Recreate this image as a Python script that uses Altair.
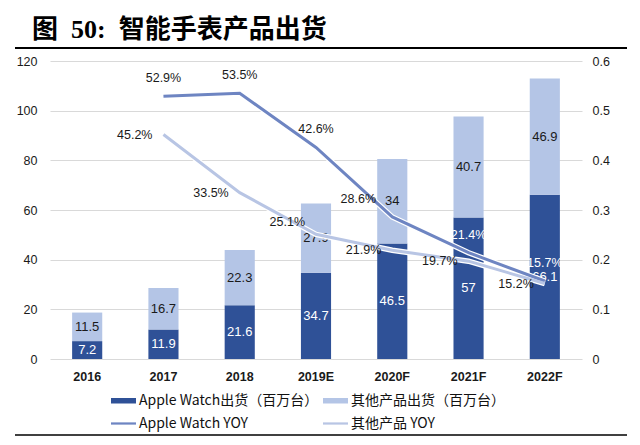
import altair as alt
import pandas as pd

# ---- data ----
years = ["2016", "2017", "2018", "2019E", "2020F", "2021F", "2022F"]
apple_ship = [7.2, 11.9, 21.6, 34.7, 46.5, 57, 66.1]
other_ship = [11.5, 16.7, 22.3, 27.9, 34, 40.7, 46.9]
yoy_years = ["2017", "2018", "2019E", "2020F", "2021F", "2022F"]
apple_yoy = [0.529, 0.535, 0.426, 0.286, 0.214, 0.157]
other_yoy = [0.452, 0.335, 0.251, 0.219, 0.197, 0.152]

S_AW = "Apple Watch出货（百万台）"
S_OT = "其他产品出货（百万台）"
S_AWY = "Apple Watch YOY"
S_OTY = "其他产品 YOY"
series_names = [S_AW, S_OT, S_AWY, S_OTY]
series_colors = ["#2F5197", "#B4C5E6", "#6E85C2", "#B8C5E4"]
title_text = "图\u200250:\u2002智能手表产品出货"

bars_df = pd.DataFrame(
    {"year": years * 2,
     "series": [S_AW] * len(years) + [S_OT] * len(years),
     "value": apple_ship + other_ship,
     "k": [0] * len(years) + [1] * len(years)}
)
line_df = pd.DataFrame(
    {"year": yoy_years * 2,
     "series": [S_AWY] * len(yoy_years) + [S_OTY] * len(yoy_years),
     "value": apple_yoy + other_yoy}
)
one = pd.DataFrame({"t": [title_text]})

FONT = "Liberation Sans"
LEG_FONT = "Noto Sans CJK SC"

cscale = alt.Scale(domain=series_names, range=series_colors)
fscale = alt.Scale(domain=series_names[:2], range=series_colors[:2])
stscale = alt.Scale(domain=series_names[2:], range=series_colors[2:])
rect_path = "M-1,-0.22L1,-0.22L1,0.22L-1,0.22Z"
line_path = "M-1,-0.09L1,-0.09L1,0.09L-1,0.09Z"
sscale = alt.Scale(domain=series_names, range=[rect_path, rect_path, line_path, line_path])

xenc = alt.X(
    "year:N",
    scale=alt.Scale(domain=years, paddingInner=0.605, paddingOuter=0.29),
    axis=alt.Axis(title=None, labelAngle=0, ticks=False, domain=False,
                  labelFont=FONT, labelFontSize=12.5, labelFontWeight="bold",
                  labelColor="#1a1a1a", labelPadding=11),
)

left_axis = alt.Axis(title=None, values=[0, 20, 40, 60, 80, 100, 120], ticks=False,
                     domain=False, grid=True, gridColor="#D9D9D9", gridWidth=1,
                     labelFont=FONT, labelFontSize=12.5, labelColor="#1a1a1a",
                     labelPadding=13)
left_scale = alt.Scale(domain=[0, 120])

stacked = alt.Chart(bars_df).transform_stack(
    stack="value", groupby=["year"], as_=["v0", "v1"], sort=[alt.SortField("k")]
)

bars = stacked.mark_bar().encode(
    x=xenc,
    y=alt.Y("v0:Q", scale=left_scale, axis=left_axis),
    y2="v1:Q",
    fill=alt.Fill("series:N", scale=fscale, legend=None),
)

bar_labels = stacked.transform_calculate(mid="(datum.v0 + datum.v1) / 2").mark_text(
    font=FONT, fontSize=13, baseline="middle"
).encode(
    x=xenc,
    y=alt.Y("mid:Q", scale=left_scale, axis=left_axis),
    text=alt.Text("value:Q", format="~g"),
    color=alt.condition("datum.k == 0", alt.value("white"), alt.value("#1a1a1a")),
)

right_scale = alt.Scale(domain=[0, 0.6])
right_axis = alt.Axis(title=None, orient="right", values=[0, 0.1, 0.2, 0.3, 0.4, 0.5, 0.6],
                      format="~g", ticks=False, domain=False, grid=False,
                      labelFont=FONT, labelFontSize=12.5, labelColor="#1a1a1a",
                      labelPadding=10)
yr = alt.Y("value:Q", scale=right_scale, axis=right_axis)

base_line = alt.Chart(line_df)
casing = base_line.mark_line(strokeWidth=5.5, color="white").encode(
    x=xenc, y=yr, detail="series:N"
)
lines = base_line.mark_line(strokeWidth=3).encode(
    x=xenc, y=yr, stroke=alt.Stroke("series:N", scale=stscale, legend=None)
)

white_cond = alt.condition("datum.year == '2021F' || datum.year == '2022F'",
                           alt.value("white"), alt.value("#1a1a1a"))
aw_lab = base_line.transform_filter(
    f"datum.series == '{S_AWY}' && datum.year != '2020F'"
).mark_text(font=FONT, fontSize=12.5, dy=-18).encode(
    x=xenc, y=yr, text=alt.Text("value:Q", format=".1%"), color=white_cond
)
aw_lab2 = base_line.transform_filter(
    f"datum.series == '{S_AWY}' && datum.year == '2020F'"
).mark_text(font=FONT, fontSize=12.5, dy=-18, dx=-34, color="#1a1a1a").encode(
    x=xenc, y=yr, text=alt.Text("value:Q", format=".1%")
)
ot_lab = base_line.transform_filter(
    f"datum.series == '{S_OTY}' && datum.year != '2019E'"
).mark_text(font=FONT, fontSize=12.5, align="right", baseline="middle", dx=-11,
            color="#1a1a1a").encode(
    x=xenc, y=yr, text=alt.Text("value:Q", format=".1%")
)
ot_lab2 = base_line.transform_filter(
    f"datum.series == '{S_OTY}' && datum.year == '2019E'"
).mark_text(font=FONT, fontSize=12.5, align="right", baseline="middle", dx=-11, dy=-12,
            color="#1a1a1a").encode(
    x=xenc, y=yr, text=alt.Text("value:Q", format=".1%")
)

leg = alt.Legend(title=None, orient="none", legendX=61, legendY=327,
                 direction="horizontal", columns=2, columnPadding=4, rowPadding=3,
                 symbolSize=625, symbolStrokeWidth=0, symbolOpacity=1,
                 labelFont=LEG_FONT, labelFontSize=14, labelColor="#111111",
                 labelLimit=400, labelOffset=3)
legend_layer = alt.Chart(bars_df).transform_filter("false").mark_point(
    filled=True, opacity=1
).encode(
    color=alt.Color("series:N", scale=cscale, legend=leg),
    shape=alt.Shape("series:N", scale=sscale, legend=leg),
)

top_rule = alt.Chart(one).mark_rule(color="black", strokeWidth=2.2).encode(
    x=alt.value(-35), x2=alt.value(577), y=alt.value(-13)
)
bottom_rule = alt.Chart(one).mark_rule(color="black", strokeWidth=1.5).encode(
    x=alt.value(-35), x2=alt.value(577), y=alt.value(374)
)
title = alt.Chart(one).mark_text(
    font="Liberation Serif, Noto Sans CJK SC", fontSize=26, fontWeight="bold",
    align="left", baseline="alphabetic", color="black"
).encode(text="t:N", x=alt.value(-18), y=alt.value(-23))

left = alt.layer(bars, bar_labels)
right = alt.layer(casing, lines, aw_lab, aw_lab2, ot_lab, ot_lab2)

chart = alt.layer(left, right, legend_layer, top_rule, bottom_rule, title).resolve_scale(
    y="independent"
).properties(
    width=532, height=298,
    autosize=alt.AutoSizeParams(type="none"),
    padding={"left": 42, "top": 53, "right": 50, "bottom": 77},
).configure_view(stroke=None)

chart.save("out.html", embed_options={"renderer": "svg", "actions": False})
